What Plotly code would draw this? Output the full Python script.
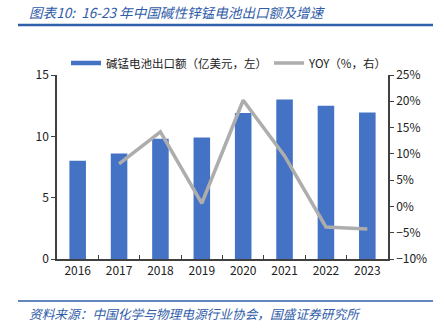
import plotly.graph_objects as go

years = ["2016", "2017", "2018", "2019", "2020", "2021", "2022", "2023"]
export_value = [8.0, 8.6, 9.8, 9.9, 11.9, 13.0, 12.5, 11.95]
yoy_years = ["2017", "2018", "2019", "2020", "2021", "2022", "2023"]
yoy_pct = [8.1, 14.2, 0.6, 20.2, 9.6, -3.9, -4.3]

bar_name = "碱锰电池出口额（亿美元，左）"
line_name = "YOY（%，右）"
title_text = "图表10:  16-23 年中国碱性锌锰电池出口额及增速"
source_text = "资料来源：中国化学与物理电源行业协会，国盛证券研究所"

FONT = "Noto Sans CJK SC, DejaVu Sans, sans-serif"
BLUE_TXT = "#2F5CA8"
BAR_COLOR = "#4472C4"
LINE_COLOR = "#ADADAD"

fig = go.Figure()
fig.add_trace(go.Bar(x=years, y=export_value, name=bar_name, showlegend=False,
                     marker=dict(color=BAR_COLOR, line=dict(width=0)), yaxis="y"))
# legend entry for the bars, drawn as a wide flat swatch like the reference
fig.add_trace(go.Scatter(x=[years[0]], y=[None], name=bar_name, mode="lines",
                         line=dict(color=BAR_COLOR, width=4.5), yaxis="y", legend="legend",
                         hoverinfo="skip"))
fig.add_trace(go.Scatter(x=yoy_years, y=yoy_pct, name=line_name, mode="lines",
                         line=dict(color=LINE_COLOR, width=3.5), yaxis="y2", legend="legend2"))

W, H = 444, 333
L, R, T, B = 57, 388, 75, 259
def px(x): return (x - L) / (R - L)
def py(y): return (B - y) / (B - T)

legend_common = dict(orientation="h", yanchor="middle", xanchor="left",
                     font=dict(size=11.5, family=FONT, color="#222"),
                     bgcolor="rgba(0,0,0,0)", itemwidth=30)

fig.update_layout(
    width=W, height=H,
    margin=dict(l=L, r=W - R, t=T, b=H - B),
    paper_bgcolor="white", plot_bgcolor="white",
    font=dict(family=FONT, size=12, color="#222"),
    bargap=0.6,
    showlegend=True,
    legend=dict(x=px(66), y=py(63), **legend_common),
    legend2=dict(x=px(269), y=py(63), **legend_common),
    xaxis=dict(type="category", showline=True, linecolor="#404040", linewidth=1.5,
               ticks="inside", ticklen=4, tickcolor="#404040", tickson="boundaries",
               showgrid=False, tickfont=dict(size=12, color="#222")),
    yaxis=dict(range=[0, 15], dtick=5, showline=True, linecolor="#404040", linewidth=1.5,
               ticks="outside", ticklen=4, tickcolor="#404040", showgrid=False,
               zeroline=False, tickfont=dict(size=12, color="#222")),
    yaxis2=dict(range=[-10, 25], dtick=5, overlaying="y", side="right", showline=True,
                linecolor="#404040", linewidth=1.5, ticks="outside", ticklen=4,
                tickcolor="#404040", showgrid=False, zeroline=False, ticksuffix="%",
                tickfont=dict(size=12, color="#222")),
    shapes=[
        dict(type="line", xref="paper", yref="paper", x0=px(18), x1=px(433), y0=py(25), y1=py(25),
             line=dict(color="#2E5FA8", width=2.5)),
        dict(type="line", xref="paper", yref="paper", x0=px(18), x1=px(433), y0=py(301), y1=py(301),
             line=dict(color="#2E5FA8", width=1.5)),
    ],
    annotations=[
        dict(text="<i>" + title_text + "</i>", xref="paper", yref="paper", x=px(27), y=py(12),
             xanchor="left", yanchor="middle", showarrow=False,
             font=dict(size=13.6, color=BLUE_TXT, family=FONT)),
        dict(text="<i>" + source_text + "</i>", xref="paper", yref="paper", x=px(27), y=py(313),
             xanchor="left", yanchor="middle", showarrow=False,
             font=dict(size=12.7, color=BLUE_TXT, family=FONT)),
    ],
)

fig.write_html("out.html")
